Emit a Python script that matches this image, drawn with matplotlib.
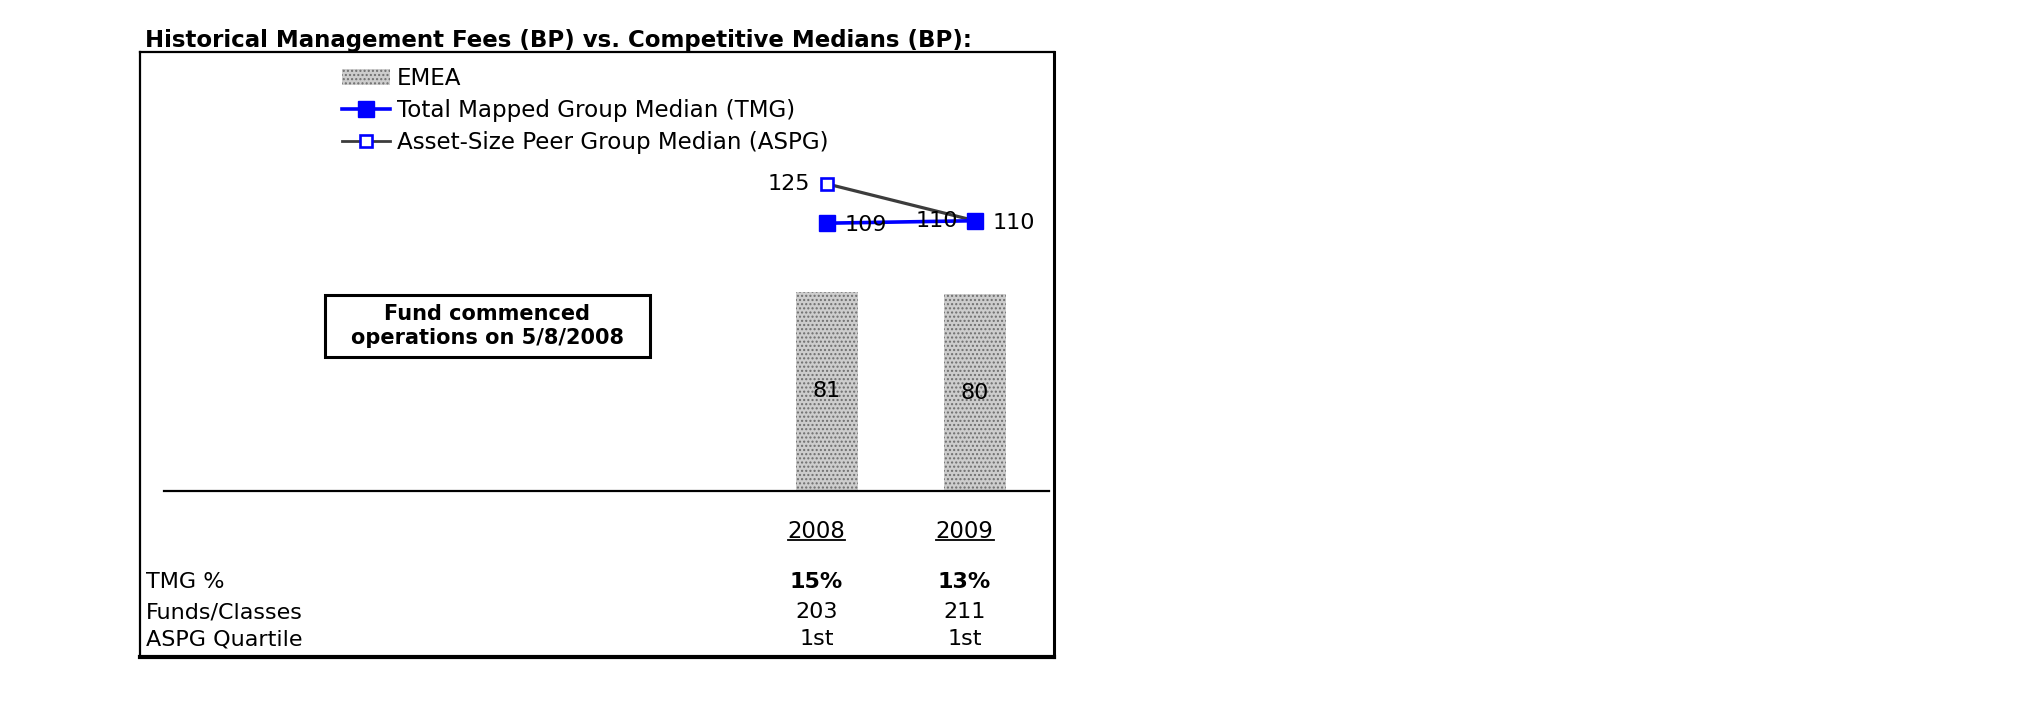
import matplotlib
matplotlib.use("Agg")
import matplotlib.pyplot as plt
import matplotlib.transforms as mtransforms
from matplotlib.patches import Rectangle, Patch
from matplotlib.lines import Line2D

plt.rcParams['font.family'] = ['DejaVu Sans']
plt.rcParams['hatch.linewidth'] = 1.0

# ---- data ----
years = ["2008", "2009"]
emea = [81, 80]
tmg = [109, 110]
aspg = [125, 110]
tmg_pct = ["15%", "13%"]
funds_classes = ["203", "211"]
aspg_quartile = ["1st", "1st"]
row_labels = ["TMG %", "Funds/Classes", "ASPG Quartile"]
title = "Historical Management Fees (BP) vs. Competitive Medians (BP):"
note = "Fund commenced\noperations on 5/8/2008"
legend_labels = ["EMEA", "Total Mapped Group Median (TMG)", "Asset-Size Peer Group Median (ASPG)"]

W, H = 2025, 717
fig = plt.figure(figsize=(W / 100, H / 100), dpi=100)


def fx(x):
    return x / W


def fy(y):
    return 1 - y / H


BAR_FACE = "#cdcdcd"
BAR_HATCH = "#6e6e6e"
TMG_COLOR = "#0000ff"
ASPG_COLOR = "#3c3c3c"

# frame / axes
left, right, top, bottom = 140, 1054, 52, 657
ax = fig.add_axes([fx(left), fy(bottom), fx(right) - fx(left), fy(top) - fy(bottom)])
x = list(range(len(years)))
ax.set_xlim(-4.642, 1.534)
ax.set_ylim(-67.56, 178.67)
ax.set_xticks([])
ax.set_yticks([])
for s in ax.spines.values():
    s.set_color("black")
ax.spines['top'].set_linewidth(1.6)
ax.spines['left'].set_linewidth(1.6)
ax.spines['right'].set_linewidth(2.2)
ax.spines['bottom'].set_linewidth(3.0)

# baseline
ax.axhline(0, xmin=(164 - left) / (right - left), xmax=(1049 - left) / (right - left),
           color="black", lw=1.6, zorder=3)

# bars
bars = ax.bar(x, emea, width=0.42, facecolor=BAR_FACE, edgecolor=BAR_HATCH,
              hatch="....", linewidth=0, zorder=2)
ax.bar_label(bars, labels=[str(v) for v in emea], label_type="center", fontsize=16)

# lines
ax.plot(x, aspg, color=ASPG_COLOR, lw=2.3, marker="s", markersize=8.5,
        markerfacecolor="white", markeredgecolor=TMG_COLOR, markeredgewidth=1.9, zorder=4)
ax.plot(x, tmg, color=TMG_COLOR, lw=2.6, marker="s", markersize=11,
        markerfacecolor=TMG_COLOR, markeredgecolor=TMG_COLOR, zorder=5)

for i, v in enumerate(aspg):
    ax.annotate(str(v), (x[i], v), xytext=(-12.5, 0), textcoords="offset points",
                ha="right", va="center", fontsize=16, zorder=6)
for i, v in enumerate(tmg):
    ax.annotate(str(v), (x[i], v), xytext=(13, -1.5), textcoords="offset points",
                ha="left", va="center", fontsize=16, zorder=6)

# legend
handles = [
    Patch(facecolor=BAR_FACE, edgecolor=BAR_HATCH, hatch="....", linewidth=0),
    Line2D([], [], color=TMG_COLOR, lw=2.6, marker="s", markersize=11,
           markerfacecolor=TMG_COLOR, markeredgecolor=TMG_COLOR),
    Line2D([], [], color=ASPG_COLOR, lw=2.0, marker="s", markersize=8.5,
           markerfacecolor="white", markeredgecolor=TMG_COLOR, markeredgewidth=1.9),
]
leg = ax.legend(handles, legend_labels, loc="upper left",
                bbox_to_anchor=(fx(342), fy(67)), bbox_transform=fig.transFigure,
                frameon=False, fontsize=16.6, borderpad=0, borderaxespad=0,
                handlelength=2.1, handleheight=0.75, handletextpad=0.27,
                labelspacing=0.39)

# note box
fig.patches.append(Rectangle((fx(325), fy(357)), fx(650) - fx(325), fy(295) - fy(357),
                             transform=fig.transFigure, facecolor="white",
                             edgecolor="black", lw=2.2, zorder=5))
fig.text(fx(487.5), fy(326), note, ha="center", va="center", fontsize=15,
         fontweight="bold", zorder=6)

# title
fig.text(fx(145), fy(40), title, ha="left", va="center", fontsize=16.5, fontweight="bold")

# table
blend = mtransforms.blended_transform_factory(ax.transData, fig.transFigure)
row_y = [582, 612, 639]
for lbl, yy in zip(row_labels, row_y):
    fig.text(fx(146), fy(yy), lbl, ha="left", va="center", fontsize=16)
year_texts = []
for i, yr in enumerate(years):
    xc = x[i] - 0.07
    year_texts.append(ax.text(xc, fy(532), yr, transform=blend,
                              ha="center", va="center", fontsize=16.4))
    ax.text(xc, fy(row_y[0]), tmg_pct[i], transform=blend, ha="center", va="center",
            fontsize=16, fontweight="bold")
    ax.text(xc, fy(row_y[1]), funds_classes[i], transform=blend, ha="center", va="center",
            fontsize=16)
    ax.text(xc, fy(row_y[2]), aspg_quartile[i], transform=blend, ha="center", va="center",
            fontsize=16)

# underline year labels, based on their rendered extents
renderer = fig.canvas.get_renderer()
for t in year_texts:
    bb = t.get_window_extent(renderer)
    yline = bb.y0 + 4
    fig.add_artist(Line2D([bb.x0 / W, bb.x1 / W], [yline / H, yline / H],
                          transform=fig.transFigure, color="black", lw=1.3))

fig.savefig("out.png", dpi=100, facecolor="white")
